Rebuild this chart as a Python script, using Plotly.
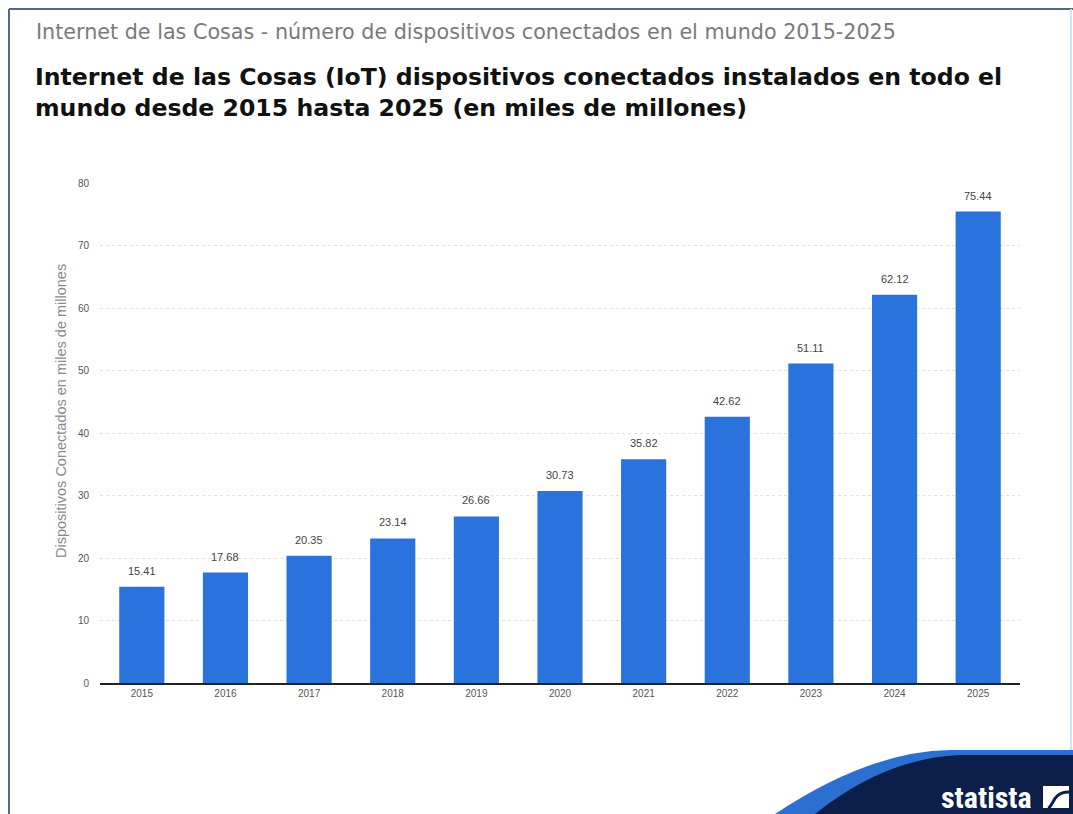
import plotly.graph_objects as go

years = ["2015", "2016", "2017", "2018", "2019", "2020", "2021", "2022", "2023", "2024", "2025"]
devices = [15.41, 17.68, 20.35, 23.14, 26.66, 30.73, 35.82, 42.62, 51.11, 62.12, 75.44]
labels = ["15.41", "17.68", "20.35", "23.14", "26.66", "30.73", "35.82", "42.62", "51.11", "62.12", "75.44"]

W, H = 1073, 814
L, R, T, B = 100, 53, 183, 131
PW, PH = W - L - R, H - T - B


def px(x):
    return (x - L) / PW


def py(y):
    return (H - B - y) / PH


fig = go.Figure()
fig.add_trace(go.Bar(
    x=years, y=devices,
    marker=dict(color="#2A72DC", line=dict(width=0)),
    width=0.54, hoverinfo="x+y",
))

shapes = []
# frame lines
shapes.append(dict(type="line", xref="paper", yref="paper", x0=px(9), x1=px(1073), y0=py(9), y1=py(9),
                   line=dict(color="#55658f", width=2)))
shapes.append(dict(type="line", xref="paper", yref="paper", x0=px(9), x1=px(9), y0=py(9), y1=py(814),
                   line=dict(color="#55658f", width=2)))
shapes.append(dict(type="line", xref="paper", yref="paper", x0=px(1071), x1=px(1071), y0=py(9), y1=py(814),
                   line=dict(color="#cfe3f5", width=2)))


def path(points_cmds):
    out = []
    for c in points_cmds:
        if isinstance(c, str):
            out.append(c)
        else:
            out.append(f"{px(c[0]):.5f},{py(c[1]):.5f}")
    return " ".join(out)


# statista logo wave
shapes.append(dict(type="path", xref="paper", yref="paper", layer="above",
                   path=path(["M", (775, 814), "Q", (870, 751), (950, 750), "L", (1073, 750), "L", (1073, 814), "Z"]),
                   fillcolor="#2C6FD1", line=dict(width=0)))
shapes.append(dict(type="path", xref="paper", yref="paper", layer="above",
                   path=path(["M", (815, 814), "Q", (885, 758), (960, 755), "L", (1073, 755), "L", (1073, 814), "Z"]),
                   fillcolor="#0B1F4A", line=dict(width=0)))
# logo icon: white square with dark S-curve
shapes.append(dict(type="rect", xref="paper", yref="paper", layer="above",
                   x0=px(1043), x1=px(1069), y0=py(808), y1=py(786),
                   fillcolor="white", line=dict(width=0)))
shapes.append(dict(type="path", xref="paper", yref="paper", layer="above",
                   path=path(["M", (1048, 808), "C", (1054, 806), (1052, 792), (1069, 792)]),
                   line=dict(color="#0B1F4A", width=3)))

annotations = [
    dict(text="Internet de las Cosas - número de dispositivos conectados en el mundo 2015-2025",
         xref="paper", yref="paper", x=px(34), y=py(32), xanchor="left", yanchor="middle", showarrow=False,
         font=dict(size=20.7, color="#7a7a7a", family="DejaVu Sans")),
    dict(text="<b>Internet de las Cosas (IoT) dispositivos conectados instalados en todo el<br>"
              "mundo desde 2015 hasta 2025 (en miles de millones)</b>",
         xref="paper", yref="paper", x=px(33), y=py(92), xanchor="left", yanchor="middle", showarrow=False,
         align="left", font=dict(size=23.6, color="#111", family="DejaVu Sans")),
    dict(text="<b>statista</b>", xref="paper", yref="paper", x=px(1034), y=py(797), xanchor="right",
         yanchor="middle", showarrow=False,
         font=dict(size=30, color="white", family="Liberation Sans Narrow, Roboto Condensed, Roboto")),
    dict(text="Dispositivos Conectados en miles de millones", xref="paper", yref="paper",
         x=px(61), y=py(411), xanchor="center", yanchor="middle", textangle=-90, showarrow=False,
         font=dict(size=14.5, color="#8a8a8a", family="Liberation Sans, Arial")),
]

for i, (v, lab) in enumerate(zip(devices, labels)):
    annotations.append(dict(text=lab, x=i, y=v, xref="x", yref="y", yanchor="bottom", showarrow=False,
                            yshift=8, font=dict(size=11, color="#444", family="Liberation Sans, Arial")))

fig.update_layout(
    width=W, height=H,
    margin=dict(l=L, r=R, t=T, b=B, autoexpand=False),
    paper_bgcolor="white", plot_bgcolor="white",
    showlegend=False,
    shapes=shapes, annotations=annotations,
    xaxis=dict(type="category", showgrid=False, showline=True, linecolor="#222", linewidth=2,
               ticks="", tickfont=dict(size=10, color="#555", family="Liberation Sans, Arial"),
               range=[-0.5, 10.5]),
    yaxis=dict(range=[0, 80], tickvals=[0, 10, 20, 30, 40, 50, 60, 70, 80],
               showgrid=True, gridcolor="#e0e0e0", griddash="dot", gridwidth=1,
               zeroline=False, showline=False, ticks="", ticklabelstandoff=10,
               tickfont=dict(size=10, color="#555", family="Liberation Sans, Arial")),
)

fig.write_html("out.html")
